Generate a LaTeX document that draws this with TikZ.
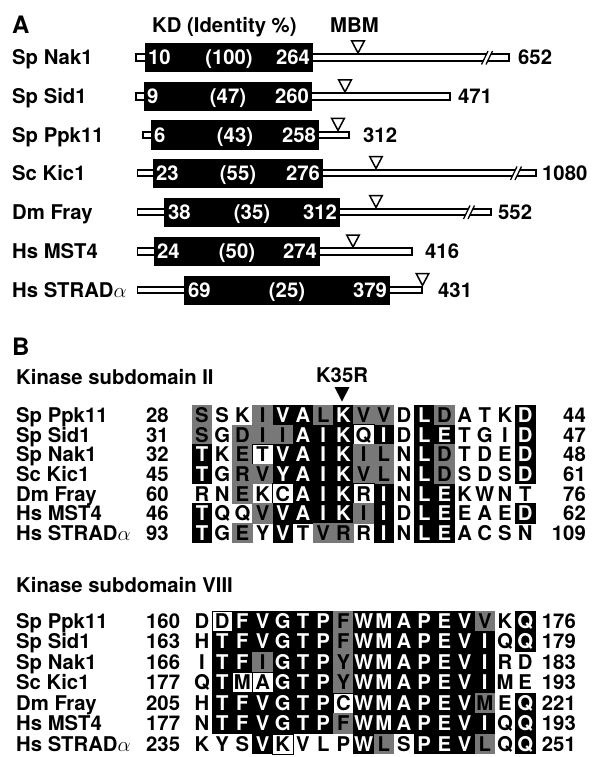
\documentclass[tikz,border=0pt]{standalone}
\usepackage{fontspec}
\setmainfont{TeX Gyre Heros}
\definecolor{shade}{gray}{0.47}
\tikzset{
  txt/.style={font=\fontsize{20.3}{24}\selectfont\bfseries, inner sep=0pt, text height=14.6pt, text depth=0pt},
  panel/.style={font=\fontsize{24}{28}\selectfont\bfseries, inner sep=0pt, anchor=west, text height=17.3pt, text depth=0pt},
  lbl/.style={txt, anchor=west},
  num/.style={txt, anchor=east},
  kd/.style={fill=black, minimum height=29pt, inner sep=0pt},
  kdnum/.style={txt, text=white},
  bar/.style={draw=black, fill=white, line width=1.8pt},
  brk/.style={draw=black, line width=1.3pt},
  mbm/.style={draw=black, fill=white, line width=1.5pt, line join=miter},
  res/.style={txt, minimum width=20.6pt, minimum height=20.1pt},
  resk/.style={res, fill=black, text=white},
  resg/.style={res, fill=shade},
  resw/.style={res},
  reso/.style={res, fill=white, draw=black, line width=0.6pt}
}
\begin{document}
\begin{tikzpicture}[x=1pt, y=-1pt]
  \useasboundingbox (0,0) rectangle (592,757);

  % Panel A headings
  \node[panel] (panela) at (12,25) {A};
  \node[lbl] (kdhead) at (152,25) {KD (Identity \%)};
  \node[lbl] (mbmhead) at (330,25) {MBM};

  % Sp Nak1
  \node[lbl] (nak1) at (12,57.5) {Sp Nak1};
  \draw[bar] (136,54.3) rectangle (148,60.7);
  \draw[bar] (310,54.3) rectangle (509,60.7);
  \fill[white] (481.5,64.5) -- (488,51) -- (492.5,51) -- (486,64.5) -- cycle;
  \draw[brk] (481.5,64.5) -- (488,51) (486,64.5) -- (492.5,51);
  \node[kd, minimum width=168pt] (nak1kd) at (229,57.5) {};
  \node[kdnum, anchor=west] (nak1from) at ([xshift=3pt]nak1kd.west) {10};
  \node[kdnum] (nak1id) at (nak1kd.center) {(100)};
  \node[kdnum, anchor=east] (nak1to) at ([xshift=-3pt]nak1kd.east) {264};
  \draw[mbm] (351.7,41) -- (364.3,41) -- (358,53) -- cycle;
  \node[lbl] (nak1len) at (518,57.5) {652};

  % Sp Sid1
  \node[lbl] (sid1) at (12,96.5) {Sp Sid1};
  \draw[bar] (136,93.3) rectangle (147,99.7);
  \draw[bar] (309,93.3) rectangle (450,99.7);
  \node[kd, minimum width=168pt] (sid1kd) at (228,96.5) {};
  \node[kdnum, anchor=west] (sid1from) at ([xshift=3pt]sid1kd.west) {9};
  \node[kdnum] (sid1id) at (sid1kd.center) {(47)};
  \node[kdnum, anchor=east] (sid1to) at ([xshift=-3pt]sid1kd.east) {260};
  \draw[mbm] (338.7,80) -- (351.3,80) -- (345,92) -- cycle;
  \node[lbl] (sid1len) at (458,96.5) {471};

  % Sp Ppk11
  \node[lbl] (ppk11) at (12,135) {Sp Ppk11};
  \draw[bar] (143,131.8) rectangle (154,138.2);
  \draw[bar] (316,131.8) rectangle (349,138.2);
  \node[kd, minimum width=168pt] (ppk11kd) at (235,135) {};
  \node[kdnum, anchor=west] (ppk11from) at ([xshift=3pt]ppk11kd.west) {6};
  \node[kdnum] (ppk11id) at (ppk11kd.center) {(43)};
  \node[kdnum, anchor=east] (ppk11to) at ([xshift=-3pt]ppk11kd.east) {258};
  \draw[mbm] (331.7,118.5) -- (344.3,118.5) -- (338,130.5) -- cycle;
  \node[lbl] (ppk11len) at (363,135) {312};

  % Sc Kic1
  \node[lbl] (kic1) at (12,173) {Sc Kic1};
  \draw[bar] (137.5,169.8) rectangle (156,176.2);
  \draw[bar] (320,169.8) rectangle (536,176.2);
  \fill[white] (510.5,180) -- (517,166.5) -- (521.5,166.5) -- (515,180) -- cycle;
  \draw[brk] (510.5,180) -- (517,166.5) (515,180) -- (521.5,166.5);
  \node[kd, minimum width=170pt] (kic1kd) at (238,173) {};
  \node[kdnum, anchor=west] (kic1from) at ([xshift=3pt]kic1kd.west) {23};
  \node[kdnum] (kic1id) at (kic1kd.center) {(55)};
  \node[kdnum, anchor=east] (kic1to) at ([xshift=-3pt]kic1kd.east) {276};
  \draw[mbm] (369.7,156.5) -- (382.3,156.5) -- (376,168.5) -- cycle;
  \node[lbl] (kic1len) at (542,173) {1080};

  % Dm Fray
  \node[lbl] (fray) at (12,212) {Dm Fray};
  \draw[bar] (137.5,208.8) rectangle (167,215.2);
  \draw[bar] (337,208.8) rectangle (491,215.2);
  \fill[white] (463.5,219) -- (470,205.5) -- (474.5,205.5) -- (468,219) -- cycle;
  \draw[brk] (463.5,219) -- (470,205.5) (468,219) -- (474.5,205.5);
  \node[kd, minimum width=176pt] (fraykd) at (252,212) {};
  \node[kdnum, anchor=west] (frayfrom) at ([xshift=4pt]fraykd.west) {38};
  \node[kdnum] (frayid) at (fraykd.center) {(35)};
  \node[kdnum, anchor=east] (frayto) at ([xshift=-3pt]fraykd.east) {312};
  \draw[mbm] (369.7,195.5) -- (382.3,195.5) -- (376,207.5) -- cycle;
  \node[lbl] (fraylen) at (498,212) {552};

  % Hs MST4
  \node[lbl] (mst4) at (12,251.5) {Hs MST4};
  \draw[bar] (137.5,248.3) rectangle (157,254.7);
  \draw[bar] (317,248.3) rectangle (412,254.7);
  \node[kd, minimum width=166pt] (mst4kd) at (237,251.5) {};
  \node[kdnum, anchor=west] (mst4from) at ([xshift=3pt]mst4kd.west) {24};
  \node[kdnum] (mst4id) at (mst4kd.center) {(50)};
  \node[kdnum, anchor=east] (mst4to) at ([xshift=-3pt]mst4kd.east) {274};
  \draw[mbm] (346.7,235) -- (359.3,235) -- (353,247) -- cycle;
  \node[lbl] (mst4len) at (425,251.5) {416};

  % Hs STRADalpha
  \node[lbl] (strad) at (12,290) {Hs STRAD$\alpha$};
  \draw[bar] (137.5,286.8) rectangle (187,293.2);
  \draw[bar] (387,286.8) rectangle (422,293.2);
  \node[kd, minimum width=206pt] (stradkd) at (287,290) {};
  \node[kdnum, anchor=west] (stradfrom) at ([xshift=4pt]stradkd.west) {69};
  \node[kdnum] (stradid) at (stradkd.center) {(25)};
  \node[kdnum, anchor=east] (stradto) at ([xshift=-3pt]stradkd.east) {379};
  \draw[mbm] (416.2,273.5) -- (428.8,273.5) -- (422.5,285.5) -- cycle;
  \node[lbl] (stradlen) at (438,290) {431};

  % Panel B, kinase subdomain II
  \node[panel] (panelb) at (12,347) {B};
  \node[lbl] (sdii) at (16,377) {Kinase subdomain II};
  \node[txt] (k35r) at (342,375) {K35R};
  \fill (334.5,387) -- (349.5,387) -- (342,401.5) -- cycle;

  \node[lbl] (ppk11ii) at (16,415) {Sp Ppk11};
  \node[lbl] (ppk11iia) at (146,415) {28};
  \foreach \aa/\sh [count=\i from 0] in {S/g,S/w,K/w,I/g,V/k,A/k,L/g,K/k,V/g,V/g,D/w,L/k,D/g,A/w,T/w,K/w,D/k}
    \node[res\sh] (ppk11ii-\i) at (202+20.2*\i,415) {\aa};
  \node[num] (ppk11iib) at (586,415) {44};

  \node[lbl] (sid1ii) at (16,434.7) {Sp Sid1};
  \node[lbl] (sid1iia) at (146,434.7) {31};
  \foreach \aa/\sh [count=\i from 0] in {S/g,G/w,D/g,I/g,I/g,A/k,I/k,K/k,Q/o,I/k,D/w,L/k,E/k,T/w,G/w,I/w,D/k}
    \node[res\sh] (sid1ii-\i) at (202+20.2*\i,434.7) {\aa};
  \node[num] (sid1iib) at (586,434.7) {47};

  \node[lbl] (nak1ii) at (16,454.4) {Sp Nak1};
  \node[lbl] (nak1iia) at (146,454.4) {32};
  \foreach \aa/\sh [count=\i from 0] in {T/k,K/w,E/g,T/o,V/k,A/k,I/k,K/k,I/g,L/g,N/w,L/k,D/g,T/w,D/w,E/w,D/k}
    \node[res\sh] (nak1ii-\i) at (202+20.2*\i,454.4) {\aa};
  \node[num] (nak1iib) at (586,454.4) {48};

  \node[lbl] (kic1ii) at (16,474.1) {Sc Kic1};
  \node[lbl] (kic1iia) at (146,474.1) {45};
  \foreach \aa/\sh [count=\i from 0] in {T/k,G/w,R/g,V/g,Y/k,A/k,I/k,K/k,V/g,L/g,N/w,L/k,D/g,S/w,D/w,S/w,D/k}
    \node[res\sh] (kic1ii-\i) at (202+20.2*\i,474.1) {\aa};
  \node[num] (kic1iib) at (586,474.1) {61};

  \node[lbl] (frayii) at (16,493.8) {Dm Fray};
  \node[lbl] (frayiia) at (146,493.8) {60};
  \foreach \aa/\sh [count=\i from 0] in {R/w,N/w,E/g,K/w,C/o,A/k,I/k,K/k,R/o,I/k,N/w,L/k,E/k,K/w,W/w,N/w,T/w}
    \node[res\sh] (frayii-\i) at (202+20.2*\i,493.8) {\aa};
  \node[num] (frayiib) at (586,493.8) {76};

  \node[lbl] (mst4ii) at (16,513.5) {Hs MST4};
  \node[lbl] (mst4iia) at (146,513.5) {46};
  \foreach \aa/\sh [count=\i from 0] in {T/k,Q/w,Q/w,V/g,V/k,A/k,I/k,K/k,I/g,I/k,D/w,L/k,E/k,E/w,A/w,E/w,D/k}
    \node[res\sh] (mst4ii-\i) at (202+20.2*\i,513.5) {\aa};
  \node[num] (mst4iib) at (586,513.5) {62};

  \node[lbl] (stradii) at (16,533.2) {Hs STRAD$\alpha$};
  \node[lbl] (stradiia) at (146,533.2) {93};
  \foreach \aa/\sh [count=\i from 0] in {T/k,G/w,E/g,Y/w,V/k,T/w,V/g,R/g,R/w,I/k,N/w,L/k,E/k,A/w,C/w,S/w,N/w}
    \node[res\sh] (stradii-\i) at (202+20.2*\i,533.2) {\aa};
  \node[num] (stradiib) at (586,533.2) {109};

  % Kinase subdomain VIII
  \node[lbl] (sdviii) at (16,585) {Kinase subdomain VIII};

  \node[lbl] (ppk11viii) at (16,621) {Sp Ppk11};
  \node[lbl] (ppk11viiia) at (146,621) {160};
  \foreach \aa/\sh [count=\i from 0] in {D/w,D/o,F/k,V/k,G/k,T/k,P/k,F/g,W/k,M/k,A/k,P/k,E/k,V/k,V/g,K/w,Q/k}
    \node[res\sh] (ppk11viii-\i) at (202+20.2*\i,621) {\aa};
  \node[num] (ppk11viiib) at (576,621) {176};

  \node[lbl] (sid1viii) at (16,641.5) {Sp Sid1};
  \node[lbl] (sid1viiia) at (146,641.5) {163};
  \foreach \aa/\sh [count=\i from 0] in {H/w,T/k,F/k,V/k,G/k,T/k,P/k,F/g,W/k,M/k,A/k,P/k,E/k,V/k,I/k,Q/w,Q/k}
    \node[res\sh] (sid1viii-\i) at (202+20.2*\i,641.5) {\aa};
  \node[num] (sid1viiib) at (576,641.5) {179};

  \node[lbl] (nak1viii) at (16,662) {Sp Nak1};
  \node[lbl] (nak1viiia) at (146,662) {166};
  \foreach \aa/\sh [count=\i from 0] in {I/w,T/k,F/k,I/g,G/k,T/k,P/k,Y/g,W/k,M/k,A/k,P/k,E/k,V/k,I/k,R/w,D/w}
    \node[res\sh] (nak1viii-\i) at (202+20.2*\i,662) {\aa};
  \node[num] (nak1viiib) at (576,662) {183};

  \node[lbl] (kic1viii) at (16,682.5) {Sc Kic1};
  \node[lbl] (kic1viiia) at (146,682.5) {177};
  \foreach \aa/\sh [count=\i from 0] in {Q/w,T/k,M/o,A/o,G/k,T/k,P/k,Y/g,W/k,M/k,A/k,P/k,E/k,V/k,I/k,M/w,E/w}
    \node[res\sh] (kic1viii-\i) at (202+20.2*\i,682.5) {\aa};
  \node[num] (kic1viiib) at (576,682.5) {193};

  \node[lbl] (frayviii) at (16,703) {Dm Fray};
  \node[lbl] (frayviiia) at (146,703) {205};
  \foreach \aa/\sh [count=\i from 0] in {H/w,T/k,F/k,V/k,G/k,T/k,P/k,C/o,W/k,M/k,A/k,P/k,E/k,V/k,M/g,E/w,Q/k}
    \node[res\sh] (frayviii-\i) at (202+20.2*\i,703) {\aa};
  \node[num] (frayviiib) at (576,703) {221};

  \node[lbl] (mst4viii) at (16,723.5) {Hs MST4};
  \node[lbl] (mst4viiia) at (146,723.5) {177};
  \foreach \aa/\sh [count=\i from 0] in {N/w,T/k,F/k,V/k,G/k,T/k,P/k,F/g,W/k,M/k,A/k,P/k,E/k,V/k,I/k,Q/w,Q/k}
    \node[res\sh] (mst4viii-\i) at (202+20.2*\i,723.5) {\aa};
  \node[num] (mst4viiib) at (576,723.5) {193};

  \node[lbl] (stradviii) at (16,744) {Hs STRAD$\alpha$};
  \node[lbl] (stradviiia) at (146,744) {235};
  \foreach \aa/\sh [count=\i from 0] in {K/w,Y/w,S/w,V/k,K/o,V/w,L/w,P/w,W/k,L/g,S/w,P/k,E/k,V/k,L/g,Q/w,Q/k}
    \node[res\sh] (stradviii-\i) at (202+20.2*\i,744) {\aa};
  \node[num] (stradviiib) at (576,744) {251};
\end{tikzpicture}
\end{document}
